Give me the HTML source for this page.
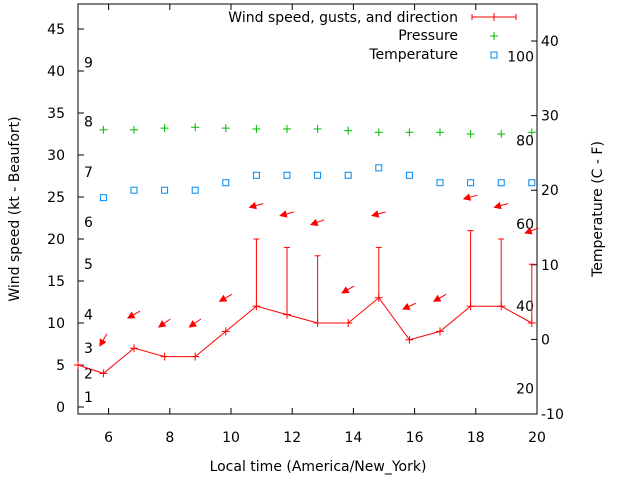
<!DOCTYPE html>
<html><head><meta charset="utf-8"><style>
body{margin:0;background:#fff;}
svg{display:block;font-family:"DejaVu Sans","Liberation Sans",sans-serif;}
text{fill:#000;}
</style></head><body>
<svg id="chart" width="640" height="480" xmlns="http://www.w3.org/2000/svg"></svg>
<script>
const times=[5.0,5.83,6.83,7.83,8.83,9.83,10.83,11.83,12.83,13.83,14.83,15.83,16.83,17.83,18.83,19.83];
const windSpeed=[5,4,7,6,6,9,12,11,10,10,13,8,9,12,12,10];
const windGust=[null,null,null,null,null,null,20,19,18,null,19,null,null,21,20,17];
const windDir=[null,30,60,55,55,60,75,75,70,60,75,65,60,75,75,70];
const pressure=[null,33.0,33.0,33.2,33.3,33.2,33.1,33.1,33.1,32.9,32.7,32.7,32.7,32.5,32.5,32.7];
const temperature=[null,19,20,20,20,21,22,22,22,22,23,22,21,21,21,21];
const xTicks=[6,8,10,12,14,16,18,20];
const yTicks=[0,5,10,15,20,25,30,35,40,45];
const y2Ticks=[-10,0,10,20,30,40];
const beaufortLabels=["1","2","3","4","5","6","7","8","9"];
const beaufortY=[1.2,4.0,7.0,11.0,17.0,22.0,28.0,34.0,41.0];
const pressureLabels=["20","40","60","80","100"];
const pressureLabelY=[2.2,12.0,21.8,31.7,41.7];

const L=78,R=537,T=4,B=414;
const xs=v=>L+(v-5)/15*(R-L);
const ys=v=>407-v*8.4;
const ys2=v=>339.4-v*7.46;
const svg=document.getElementById('chart');
const NS="http://www.w3.org/2000/svg";
function mk(tag,attrs,parent){const e=document.createElementNS(NS,tag);for(const k in attrs)e.setAttribute(k,attrs[k]);(parent||svg).appendChild(e);return e;}
function txt(x,y,s,anchor,size,parent){const t=mk('text',{x:x,y:y,'text-anchor':anchor||'start','font-size':size||14},parent);t.textContent=s;return t;}

const frame=mk('rect',{x:L,y:T,width:R-L,height:B-T,fill:'none',stroke:'#000','stroke-width':1});



xTicks.forEach(v=>{const x=xs(v);mk('line',{x1:x,y1:B,x2:x,y2:B-6,stroke:'#000'});mk('line',{x1:x,y1:T,x2:x,y2:T+6,stroke:'#000'});
 const t=txt(x,442,String(v),'middle');});
yTicks.forEach(v=>{const y=ys(v);mk('line',{x1:L,y1:y,x2:L+6,y2:y,stroke:'#000'});
 const t=txt(65,y+5,String(v),'end');});
y2Ticks.forEach(v=>{const y=ys2(v);mk('line',{x1:R,y1:y,x2:R-6,y2:y,stroke:'#000'});
 const t=txt(541,y+5,String(v),'start');});
beaufortLabels.forEach((s,i)=>{const t=txt(84,ys(beaufortY[i])+5,s,'start');});
pressureLabels.forEach((s,i)=>{const t=txt(534,ys(pressureLabelY[i])+5,s,'end');});

let t=txt(318,471,'Local time (America/New_York)','middle');
t=mk('text',{x:0,y:0,'text-anchor':'middle','font-size':14,transform:'translate(19,209) rotate(-90)'});t.textContent='Wind speed (kt - Beaufort)';

t=mk('text',{x:0,y:0,'text-anchor':'middle','font-size':14,transform:'translate(602,209) rotate(-90)'});t.textContent='Temperature (C - F)';


let pts=times.map((x,i)=>xs(x)+','+ys(windSpeed[i])).join(' ');
const wl=mk('polyline',{points:pts,fill:'none',stroke:'#f00','stroke-width':1});

times.forEach((x,i)=>{const px=xs(x),py=ys(windSpeed[i]);
 const g=mk('g',{stroke:'#f00','stroke-width':1});
 
 mk('line',{x1:px-4,y1:py,x2:px+4,y2:py},g);mk('line',{x1:px,y1:py-4,x2:px,y2:py+4},g);
 if(windGust[i]!=null){const gy=ys(windGust[i]);mk('line',{x1:px,y1:py,x2:px,y2:gy},g);mk('line',{x1:px-3,y1:gy,x2:px+3,y2:gy},g);}
 if(windDir[i]!=null){const top=Math.max(windSpeed[i],windGust[i]||0)+4;const cy=ys(top);
  const a=windDir[i]*Math.PI/180;
  const dx=-Math.sin(a)*7,dy=Math.cos(a)*7;
  const ag=mk('g',{},svg);
  const x1=px-dx,y1=cy-dy,x2=px+dx,y2=cy+dy;
  mk('line',{x1:x1,y1:y1,x2:x2,y2:y2,stroke:'#f00','stroke-width':1},ag);
  const ux=dx/7,uy=dy/7,bx=x2-ux*6,by=y2-uy*6;
  mk('polygon',{points:`${x2},${y2} ${bx-uy*3},${by+ux*3} ${bx+uy*3},${by-ux*3}`,fill:'#f00',stroke:'#f00'},ag);}
});
times.forEach((x,i)=>{if(pressure[i]==null)return;const px=xs(x),py=ys(pressure[i]);
 const g=mk('g',{stroke:'#0b0','stroke-width':1});
 mk('line',{x1:px-4,y1:py,x2:px+4,y2:py},g);mk('line',{x1:px,y1:py-4,x2:px,y2:py+4},g);});
times.forEach((x,i)=>{if(temperature[i]==null)return;const px=xs(x),py=ys2(temperature[i]);
 const r=mk('rect',{x:px-3,y:py-3,width:6,height:6,fill:'none',stroke:'#08e','stroke-width':1});
 });

const lg=mk('g',{});
txt(458,22,'Wind speed, gusts, and direction','end',14,lg);
mk('line',{x1:472,y1:17,x2:516,y2:17,stroke:'#f00'},lg);mk('line',{x1:472,y1:14,x2:472,y2:20,stroke:'#f00'},lg);
mk('line',{x1:516,y1:14,x2:516,y2:20,stroke:'#f00'},lg);mk('line',{x1:494,y1:13,x2:494,y2:21,stroke:'#f00'},lg);
txt(458,40,'Pressure','end',14,lg);
mk('line',{x1:490,y1:36,x2:498,y2:36,stroke:'#0b0'},lg);mk('line',{x1:494,y1:32,x2:494,y2:40,stroke:'#0b0'},lg);
txt(458,59,'Temperature','end',14,lg);
mk('rect',{x:491,y:52,width:6,height:6,fill:'none',stroke:'#08e'},lg);
</script>
</body></html>
